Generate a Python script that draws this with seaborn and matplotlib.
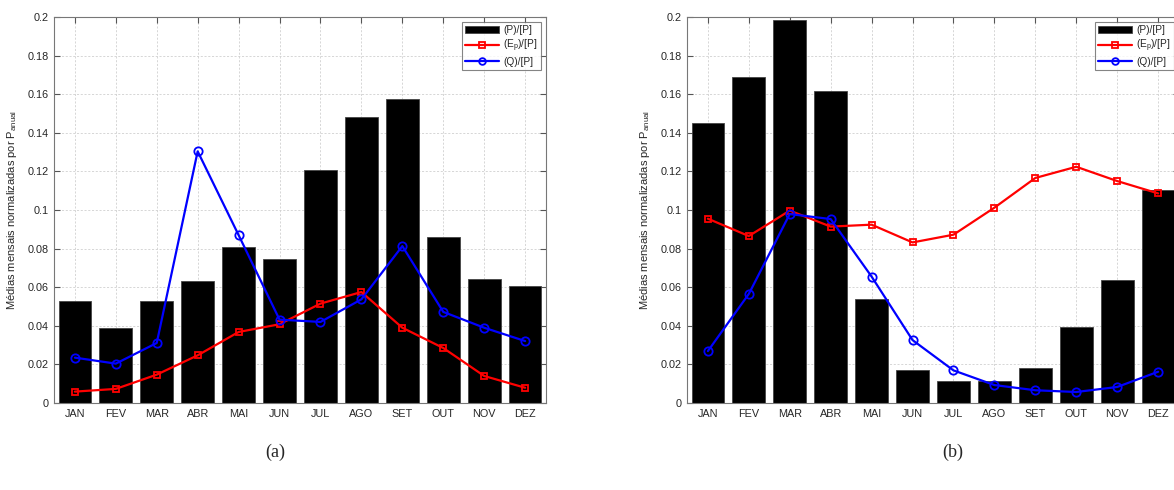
import numpy as np
import pandas as pd
import matplotlib
matplotlib.use("Agg")
import matplotlib.pyplot as plt
import seaborn as sns
from matplotlib.ticker import FuncFormatter, MultipleLocator

# %% data
meses = ["JAN", "FEV", "MAR", "ABR", "MAI", "JUN", "JUL", "AGO", "SET", "OUT", "NOV", "DEZ"]

p_a = [0.0527, 0.0389, 0.0530, 0.0634, 0.0810, 0.0748, 0.1206, 0.1480, 0.1574, 0.0860, 0.0641, 0.0606]
ep_a = [0.0059, 0.0073, 0.0147, 0.0247, 0.0368, 0.0408, 0.0515, 0.0575, 0.0390, 0.0285, 0.0140, 0.0079]
q_a = [0.0235, 0.0204, 0.0311, 0.1304, 0.0870, 0.0432, 0.0420, 0.0537, 0.0813, 0.0472, 0.0390, 0.0321]

p_b = [0.1452, 0.1689, 0.1983, 0.1617, 0.0539, 0.0173, 0.0116, 0.0116, 0.0180, 0.0392, 0.0637, 0.1102]
ep_b = [0.0955, 0.0865, 0.0997, 0.0914, 0.0924, 0.0832, 0.0872, 0.1012, 0.1166, 0.1224, 0.1150, 0.1086]
q_b = [0.0269, 0.0565, 0.0979, 0.0953, 0.0655, 0.0326, 0.0169, 0.0093, 0.0066, 0.0057, 0.0083, 0.0162]

paineis = [("(a)", p_a, ep_a, q_a), ("(b)", p_b, ep_b, q_b)]

# %% style
sns.set_style("ticks")
plt.rcParams["font.family"] = ["Liberation Sans", "DejaVu Sans"]
plt.rcParams["mathtext.fontset"] = "custom"
plt.rcParams["mathtext.rm"] = "Liberation Sans"
plt.rcParams["mathtext.it"] = "Liberation Sans"

fig = plt.figure(figsize=(11.74, 4.9), dpi=100)
posicoes = [[54 / 1174, 87 / 490, 492 / 1174, 386 / 490],
            [687 / 1174, 87 / 490, 492 / 1174, 386 / 490]]
legendas_x = [275 / 1174, 953 / 1174]

for pos, cx, (cap, p, ep, q) in zip(posicoes, legendas_x, paineis):
    ax = fig.add_axes(pos)
    df = pd.DataFrame({"mes": meses, "P": p, "Ep": ep, "Q": q})
    sns.barplot(data=df, x="mes", y="P", color="black", saturation=1, width=0.8,
                edgecolor="#444444", linewidth=0.6, label="(P)/[P]", ax=ax, zorder=2)
    sns.lineplot(data=df, x="mes", y="Ep", color="red", lw=1.6, marker="s", markersize=5,
                 markerfacecolor="none", markeredgecolor="red", markeredgewidth=1.3,
                 label="(E$_\\mathrm{p}$)/[P]", ax=ax, zorder=3)
    sns.lineplot(data=df, x="mes", y="Q", color="blue", lw=1.6, marker="o", markersize=6,
                 markerfacecolor="none", markeredgecolor="blue", markeredgewidth=1.3,
                 label="(Q)/[P]", ax=ax, zorder=3)

    ax.set_xlim(-0.51, 11.51)
    ax.set_ylim(0, 0.2)
    ax.yaxis.set_major_locator(MultipleLocator(0.02))
    ax.yaxis.set_major_formatter(FuncFormatter(lambda v, _: "{:g}".format(round(v, 2))))
    ax.set_xlabel("")
    ax.set_ylabel("Médias mensais normalizadas por P$_\\mathrm{anual}$", fontsize=8, labelpad=6)
    ax.tick_params(direction="in", top=True, right=True, labelsize=7.8, length=4,
                   color="#555555", pad=4)
    ax.grid(True, linestyle=(0, (2.5, 2)), color="#d0d0d0", linewidth=0.6, zorder=0)
    ax.set_axisbelow(True)
    for s in ax.spines.values():
        s.set_color("#777777")
        s.set_linewidth(0.8)

    handles, labels = ax.get_legend_handles_labels()
    ordem = [labels.index(l) for l in ["(P)/[P]", "(E$_\\mathrm{p}$)/[P]", "(Q)/[P]"]]
    leg = ax.legend([handles[i] for i in ordem], [labels[i] for i in ordem],
                    loc="upper right", fontsize=7.3, frameon=True, fancybox=False,
                    borderpad=0.3, labelspacing=0.25, handlelength=3.4, handletextpad=0.4,
                    borderaxespad=0.5, markerscale=0.8)
    leg.get_frame().set_edgecolor("#666666")
    leg.get_frame().set_linewidth(0.8)

    fig.text(cx, 38 / 490, cap, ha="center", va="center", fontsize=13,
             family=["Liberation Serif", "DejaVu Serif"])

fig.savefig("out.png", dpi=100)
